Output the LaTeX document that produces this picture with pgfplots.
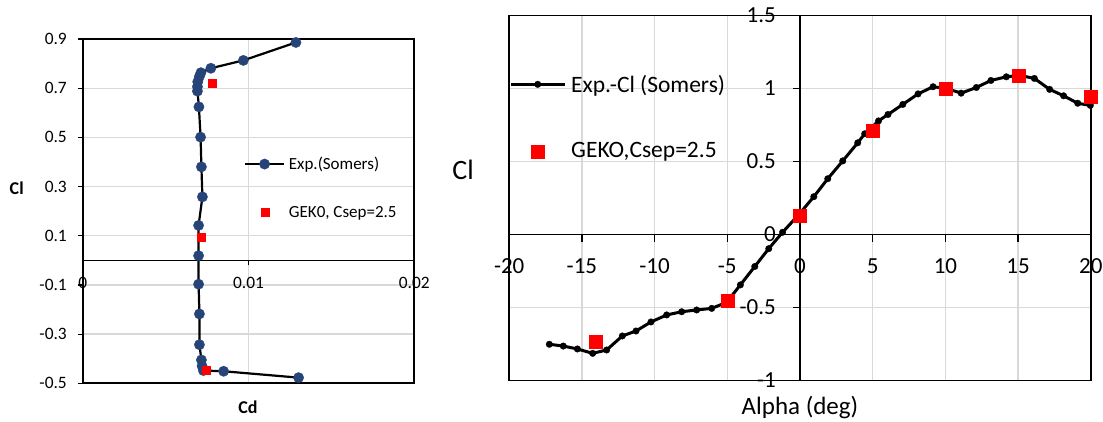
\documentclass[border=0pt]{standalone}
\usepackage{fontspec}
\setmainfont{Carlito}
\usepackage{pgfplots}
\pgfplotsset{compat=1.18}
\definecolor{gridgray}{HTML}{D9D9D9}
\definecolor{expblue}{RGB}{38,68,120}
\newcommand{\myfs}[1]{\fontsize{#1}{#1}\selectfont}
\pgfplotsset{
  legLline/.style={legend image code/.code={\draw[##1, mark repeat=2, mark phase=2] plot coordinates {(0pt,0pt) (19.5pt,0pt) (39pt,0pt)};}},
  legLmark/.style={legend image code/.code={\draw[##1] plot coordinates {(19.5pt,0pt)};}},
  legRline/.style={legend image code/.code={\draw[##1, mark repeat=2, mark phase=2] plot coordinates {(0pt,0pt) (27pt,0pt) (54pt,0pt)};}},
  legRmark/.style={legend image code/.code={\draw[##1] plot coordinates {(27pt,0pt)};}},
}
\begin{document}
\begin{tikzpicture}
\path[use as bounding box] (0pt,0pt) rectangle (1103pt,421pt);
% ---------------- left: drag polar ----------------
\begin{axis}[
  at={(82.7pt,37.7pt)}, anchor=south west,
  scale only axis, width=331.6pt, height=344.3pt,
  xmin=0, xmax=0.02, ymin=-0.5, ymax=0.9, enlargelimits=false, clip=false,
  scaled x ticks=false, scaled y ticks=false,
  axis x line=middle, axis y line=left,
  axis line style={-, black, line width=1.6pt},
  xtick={0,0.01,0.02}, xticklabels={0,0.01,0.02},
  ytick={-0.5,-0.3,-0.1,0.1,0.3,0.5,0.7,0.9},
  yticklabels={-0.5,-0.3,-0.1,0.1,0.3,0.5,0.7,0.9},
  hide obscured x ticks=false, hide obscured y ticks=false,
  grid=major, major grid style={gridgray, line width=1.3pt},
  tick align=outside, major tick length=5pt, tick style={black, line width=1.2pt},
  xticklabel style={font=\myfs{17.4}, inner sep=0pt, anchor=center, yshift=-17.5pt},
  yticklabel style={font=\myfs{17.4}, inner sep=0pt, anchor=east, xshift=-10.7pt},
  xlabel={\textbf{Cd}},
  xlabel style={at={(axis description cs:0.4985,-0.0688)}, anchor=center, font=\myfs{18}, inner sep=0pt},
  ylabel={\textbf{Cl}},
  ylabel style={at={(axis description cs:-0.199,0.567)}, anchor=center, rotate=-90, font=\myfs{18}, inner sep=0pt},
  legend style={draw=none, fill=none, at={(axis description cs:0.4864,0.657)}, anchor=north west,
    inner sep=0pt, outer sep=0pt, row sep=35pt,
    nodes={inner sep=0pt, outer sep=0pt, font=\myfs{17}},
    /tikz/every odd column/.style={column sep=3.7pt}},
  legend cell align=left,
]
\addplot[black, line width=2.2pt, mark=*, mark size=5.2pt,
  mark options={fill=expblue, draw=expblue, line width=0.3pt}, legLline]
coordinates {
(0.01286,0.886) (0.00969,0.813) (0.00773,0.781) (0.00713,0.763) (0.00703,0.746)
(0.00694,0.726) (0.00692,0.706) (0.00692,0.688) (0.00701,0.624) (0.00711,0.501)
(0.00716,0.380) (0.00722,0.258) (0.00699,0.142) (0.00699,0.019) (0.00699,-0.097)
(0.00704,-0.218) (0.00704,-0.343) (0.00716,-0.405) (0.00720,-0.430) (0.00728,-0.448)
(0.00850,-0.451) (0.01302,-0.477)
};
\addlegendentry{Exp.(Somers)}
\addplot[only marks, mark=square*, mark size=4pt, color=red, mark options={line width=0.1pt}, legLmark]
coordinates {(0.00778,0.720) (0.00716,0.094) (0.00742,-0.447)};
\addlegendentry{GEK0, Csep=2.5}
\draw[black, line width=1.8pt] (rel axis cs:0,0) rectangle (rel axis cs:1,1);
\end{axis}
% ---------------- right: lift curve ----------------
\begin{axis}[
  at={(509.2pt,40.5pt)}, anchor=south west,
  scale only axis, width=581.6pt, height=365pt,
  xmin=-20, xmax=20, ymin=-1, ymax=1.5, enlargelimits=false, clip=false,
  axis lines=middle,
  axis line style={-, black, line width=1.6pt},
  xtick={-20,-15,-10,-5,0,5,10,15,20}, xticklabels={-20,-15,-10,-5,0,5,10,15,20},
  ytick={-1,-0.5,0,0.5,1,1.5}, yticklabels={-1,-0.5,0,0.5,1,1.5},
  hide obscured x ticks=false, hide obscured y ticks=false,
  grid=major, major grid style={gridgray, line width=1.5pt},
  tick align=outside, major tick length=7pt, tick style={black, line width=1.5pt},
  xticklabel style={font=\myfs{23}, inner sep=0pt, anchor=center, yshift=-25pt},
  yticklabel style={font=\myfs{23}, inner sep=0pt, anchor=east, xshift=-17pt},
  xlabel={Alpha (deg)},
  xlabel style={at={(axis description cs:0.5,-0.0753)}, anchor=center, font=\myfs{25}, inner sep=0pt},
  ylabel={Cl},
  ylabel style={at={(axis description cs:-0.0794,0.5767)}, anchor=center, rotate=0, font=\myfs{28}, inner sep=0pt},
  legend style={draw=none, fill=none, at={(axis description cs:0,0.837)}, anchor=north west,
    inner sep=0pt, outer sep=0pt, row sep=49pt,
    nodes={inner sep=0pt, outer sep=0pt, font=\myfs{23.5}},
    /tikz/every odd column/.style={column sep=5pt}},
  legend cell align=left,
]
\addplot[black, line width=3pt, mark=*, mark size=3.3pt, mark options={line width=0.3pt}, legRline]
coordinates {
(-17.24,-0.752) (-16.28,-0.764) (-15.31,-0.784) (-14.26,-0.814) (-13.30,-0.791)
(-12.22,-0.695) (-11.28,-0.661) (-10.25,-0.599) (-9.17,-0.551) (-8.14,-0.529)
(-7.11,-0.517) (-6.07,-0.506) (-5.05,-0.465) (-4.10,-0.345) (-3.11,-0.219)
(-2.15,-0.097) (-1.20,0.015) (-0.05,0.140) (0.95,0.259) (1.91,0.382)
(2.94,0.504) (3.97,0.628) (4.45,0.690) (5.40,0.778) (6.05,0.822)
(7.07,0.891) (8.12,0.963) (9.15,1.012) (10.10,1.000) (11.08,0.968)
(12.13,1.007) (13.13,1.055) (14.19,1.080) (15.10,1.090) (16.12,1.069)
(17.17,0.994) (18.13,0.950) (19.10,0.899) (19.97,0.884)
};
\addlegendentry{Exp.-Cl (Somers)}
\addplot[only marks, mark=square*, mark size=6.5pt, color=red, mark options={line width=0.1pt}, legRmark]
coordinates {(-14.03,-0.734) (-5.0,-0.452) (0,0.130) (5.0,0.714) (10.0,1.002) (15.0,1.092) (20.0,0.948)};
\addlegendentry{GEKO,Csep=2.5}
\draw[black, line width=1.8pt] (rel axis cs:0,0) rectangle (rel axis cs:1,1);
\end{axis}
\end{tikzpicture}
\end{document}
